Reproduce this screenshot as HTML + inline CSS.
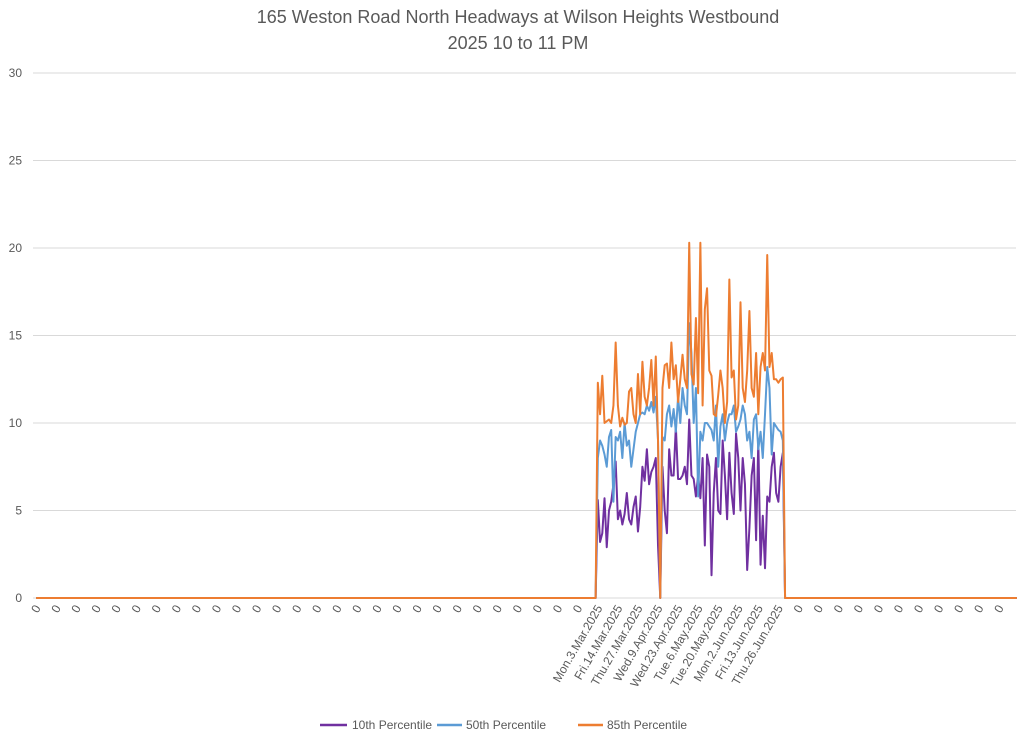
<!DOCTYPE html>
<html><head><meta charset="utf-8"><style>
body{margin:0;background:#fff;font-family:"Liberation Sans",sans-serif;}
svg text{font-family:"Liberation Sans",sans-serif;fill:#595959;}
</style></head><body>
<svg id="chart" width="1024" height="740" xmlns="http://www.w3.org/2000/svg">
<text x="518" y="23" text-anchor="middle" font-size="18">165 Weston Road North Headways at Wilson Heights Westbound</text>
<text x="518" y="49" text-anchor="middle" font-size="18">2025 10 to 11 PM</text>
<g id="grid"></g><g id="xlabels"></g><g id="series"></g>
<g>
<line x1="320" y1="725" x2="347" y2="725" stroke="#7030a0" stroke-width="2.5"/>
<text x="352" y="729" font-size="12">10th Percentile</text>
<line x1="437" y1="725" x2="462" y2="725" stroke="#5b9bd5" stroke-width="2.5"/>
<text x="466" y="729" font-size="12">50th Percentile</text>
<line x1="578" y1="725" x2="603" y2="725" stroke="#ed7d31" stroke-width="2.5"/>
<text x="607" y="729" font-size="12">85th Percentile</text>
</g>
</svg>
<script>
const yTicks=[0,5,10,15,20,25,30];
const tickLabels=[];
for(let i=0;i<28;i++)tickLabels.push("0");
tickLabels.push("Mon.3.Mar.2025","Fri.14.Mar.2025","Thu.27.Mar.2025","Wed.9.Apr.2025","Wed.23.Apr.2025","Tue.6.May.2025","Tue.20.May.2025","Mon.2.Jun.2025","Fri.13.Jun.2025","Thu.26.Jun.2025");
for(let i=0;i<11;i++)tickLabels.push("0");
const pointsPerLabel=9;
const dataStartIndex=252;
const p85=[12.3,10.5,12.7,10.0,10.1,10.2,10.0,11.0,14.6,11.0,
9.8,10.3,9.9,10.0,11.8,12.0,10.5,10.0,12.8,10.5,
13.5,11.5,11.0,12.0,13.6,11.0,13.8,9.0,0,12.0,
13.3,13.4,12.0,14.6,12.5,13.3,11.2,12.5,13.9,12.5,
12.0,20.3,12.8,12.2,16.0,11.7,20.3,11.0,16.5,17.7,
13.0,12.7,10.5,10.4,11.6,13.0,12.0,10.0,11.2,18.2,
12.6,13.0,10.2,11.0,16.9,12.0,11.2,13.0,16.4,12.0,
11.5,14.0,10.5,13.2,14.0,13.0,19.6,13.2,14.0,12.5,
12.5,12.3,12.5,12.6,0];
const p50=[8.0,9.0,8.7,8.2,7.5,9.2,9.6,5.5,9.2,9.0,
9.5,8.0,10.0,8.7,9.0,7.5,8.5,9.5,10.0,10.5,
10.6,10.5,11.0,10.7,11.2,10.6,11.5,9.0,0,9.2,
9.0,10.5,11.0,9.8,10.8,9.5,11.5,10.0,12.0,11.0,
10.5,15.7,14.0,10.0,12.0,5.8,9.5,9.0,10.0,10.0,
9.8,9.6,9.0,11.0,7.5,9.8,10.5,9.0,10.0,10.5,
10.5,11.0,9.5,9.8,10.2,11.0,10.5,9.0,9.5,8.0,
10.2,10.5,8.5,9.5,8.0,10.5,13.2,12.0,8.2,10.0,
9.8,9.6,9.5,9.0,0];
const p10=[5.6,3.2,3.7,5.7,2.9,5.0,5.5,6.5,7.8,4.5,
5.0,4.2,4.8,6.0,4.5,4.2,5.2,5.8,3.8,5.2,
7.5,6.7,8.5,6.5,7.2,7.5,8.0,3.0,0,7.5,
5.0,3.7,8.5,7.0,7.0,9.8,6.8,6.8,7.0,7.5,
6.5,10.2,7.0,6.8,5.8,7.0,5.7,8.0,3.0,8.2,
7.5,1.3,6.0,8.0,5.0,4.8,9.0,7.0,4.5,8.3,
6.0,4.8,9.4,8.0,5.0,8.0,6.5,1.6,4.0,7.0,
8.0,3.3,9.0,1.9,4.7,1.7,5.8,5.5,7.5,8.3,
6.0,5.5,7.5,8.3,0];
const NS="http://www.w3.org/2000/svg";
const X0=33,X1=1016,Y0=598,Y30=73;
const N=tickLabels.length*pointsPerLabel;
const step=(X1-X0)/N;
function xPos(i){return X0+step*(i+1.4);}
function yPos(v){return Y0-(v/30)*(Y0-Y30);}
function mk(t,a,parent){const e=document.createElementNS(NS,t);for(const k in a)e.setAttribute(k,a[k]);parent.appendChild(e);return e;}
const grid=document.getElementById('grid');
yTicks.forEach(v=>{
  const l=mk('line',{x1:X0,x2:X1,y1:yPos(v),y2:yPos(v),stroke:'#d9d9d9','stroke-width':1},grid);
  
  
  const t=mk('text',{x:22,y:yPos(v)+4,'text-anchor':'end','font-size':12},grid);
  t.textContent=v;
  
  
});
const xl=document.getElementById('xlabels');
tickLabels.forEach((s,i)=>{
  const x=xPos(i*pointsPerLabel)+5,y=608;
  const t=mk('text',{x:x,y:y,'text-anchor':'end','font-size':12,transform:`rotate(-60 ${x} ${y})`},xl);
  t.textContent=s;
  
  
});
const sg=document.getElementById('series');
function full(arr){const a=[];for(let i=0;i<N;i++){const k=i-dataStartIndex;a.push(k>=0&&k<arr.length?arr[k]:0);}return a;}
[[p10,'#7030a0','series-10th-percentile'],[p50,'#5b9bd5','series-50th-percentile'],[p85,'#ed7d31','series-85th-percentile']].forEach(([arr,c,n])=>{
  const d=full(arr).map((v,i)=>(i?'L':'M')+xPos(i).toFixed(2)+' '+yPos(v).toFixed(2)).join('');
  const p=mk('path',{d:d,fill:'none',stroke:c,'stroke-width':2,'stroke-linejoin':'round'},sg);
  
  
});
</script>
</body></html>
